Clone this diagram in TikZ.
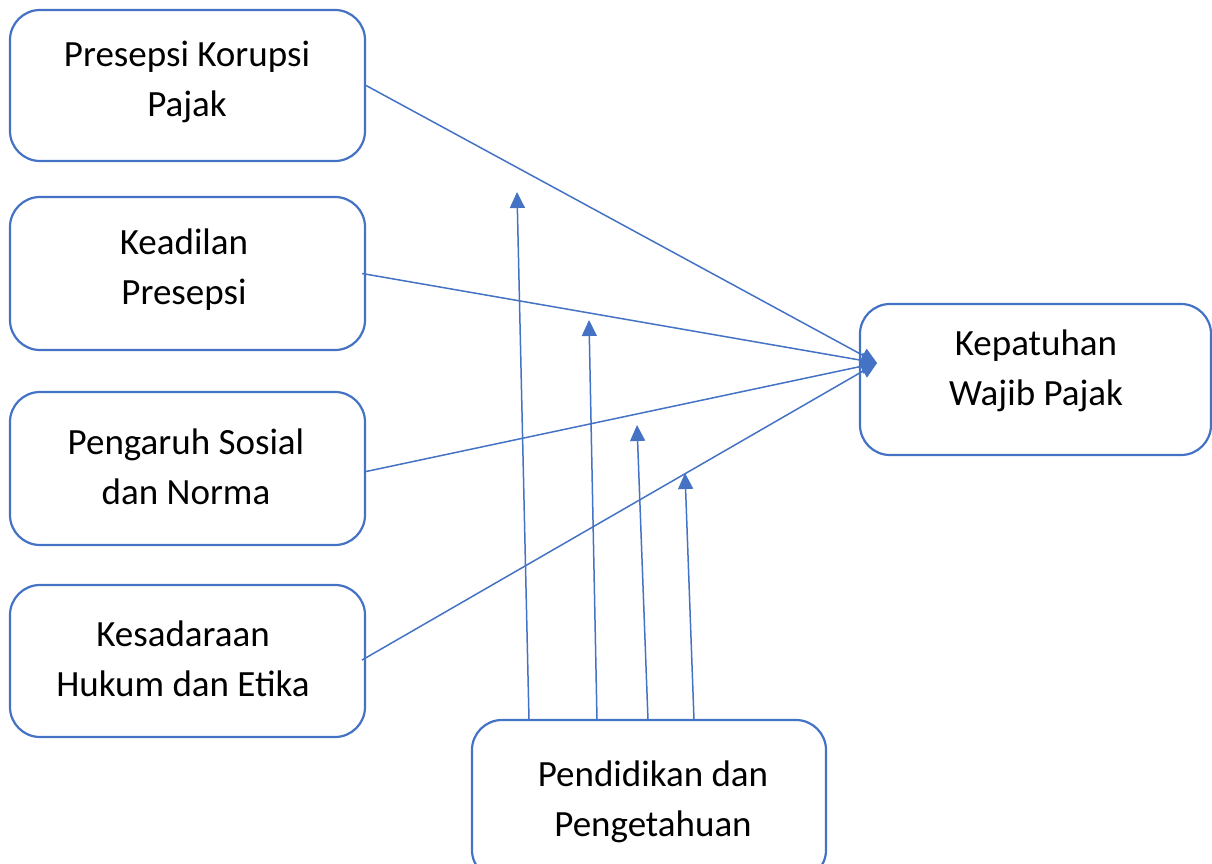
\documentclass[tikz,border=0pt]{standalone}
\usepackage{fontspec}
\setmainfont{Carlito}
\usetikzlibrary{arrows.meta,calc}
\definecolor{boxblue}{HTML}{4472C4}
\tikzset{
  box/.style={draw=boxblue, line width=2.2pt, rounded corners=30pt, fill=white,
    minimum width=355pt, inner sep=0pt, anchor=center},
  txt/.style={font=\fontsize{37pt}{50pt}\selectfont, align=center, inner sep=0pt, text=black},
  conn/.style={draw=boxblue, line width=1.5pt, -{Triangle[length=16pt,width=15pt]}},
}
\begin{document}
\begin{tikzpicture}[x=1pt,y=-1pt]
\useasboundingbox (0,0) rectangle (1212,864);
\node[box, minimum height=151pt] (b1) at (187.5,85.5) {};
\node[box, minimum height=153pt] (b2) at (187.5,273.5) {};
\node[box, minimum height=153pt] (b3) at (187.5,468.5) {};
\node[box, minimum height=152pt] (b4) at (187.5,661) {};
\node[box, minimum height=151pt, minimum width=351pt] (b5) at (1035.5,379.5) {};
\node[box, minimum height=160pt, minimum width=354pt] (b6) at (649,800) {};
\node[txt] (t1) at (187,82) {Presepsi Korupsi\\Pajak};
\node[txt] (t2) at (184,270) {Keadilan\\Presepsi};
\node[txt] (t3) at (186,467) {Pengaruh Sosial\\dan Norma};
\node[txt] (t4) at (183,659) {Kesadaraan\\Hukum dan Etika};
\node[txt] (t5) at (1036,371) {Kepatuhan\\Wajib Pajak};
\node[txt] (t6) at (653,802) {Pendidikan dan\\Pengetahuan};
\coordinate (tip) at (877,363);
\draw[conn] (b1.east) -- (tip);
\draw[conn] ($(b2.east)+(-4,0)$) -- (tip);
\draw[conn] ($(b3.east)+(0,3)$) -- (tip);
\draw[conn] ($(b4.east)+(-4,-1)$) -- (tip);
\coordinate (s1) at (529,720);
\coordinate (s2) at (597,720);
\coordinate (s3) at (648,720);
\coordinate (s4) at (694,720);
\coordinate (e1) at (517,192);
\coordinate (e2) at (589,320);
\coordinate (e3) at (637,425);
\coordinate (e4) at (685,473);
\draw[conn] (s1) -- (e1);
\draw[conn] (s2) -- (e2);
\draw[conn] (s3) -- (e3);
\draw[conn] (s4) -- (e4);
\end{tikzpicture}
\end{document}
